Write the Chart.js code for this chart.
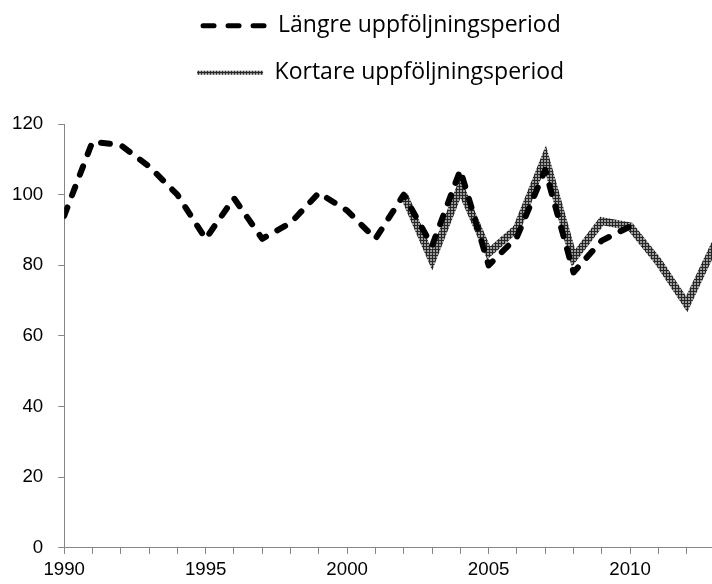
<!DOCTYPE html>
<html lang="sv">
  <head>
    <meta charset="UTF-8" />
    <title>Uppföljningsperiod</title>
    <script src="https://cdn.jsdelivr.net/npm/chart.js@4.4.1/dist/chart.umd.min.js"></script>
    <style>
      html, body { margin: 0; padding: 0; background: #fff; overflow: hidden; }
      #wrap { width: 712px; height: 584px; overflow: hidden; }
    </style>
  </head>
  <body>
    <!-- canvas is a bit wider than the window: the reference is cut at 2013 -->
    <div id="wrap"><canvas id="chart" width="720" height="584"></canvas></div>
    <script>
      // data
      const years = [1990, 1991, 1992, 1993, 1994, 1995, 1996, 1997, 1998, 1999, 2000, 2001,
                     2002, 2003, 2004, 2005, 2006, 2007, 2008, 2009, 2010, 2011, 2012, 2013];
      const langre = [94, 115, 114, 108, 100, 87.5, 99, 87.5, 92, 100.5, 95.5, 87.5,
                      100, 85.5, 107, 80, 88, 107, 78, 87, 91, null, null, null];
      const kortare = [null, null, null, null, null, null, null, null, null, null, null, null,
                       100, 81.5, 102, 83.5, 90.5, 110.5, 82, 92.5, 91, 81, 69, 86];
      const seriesNames = ["Längre uppföljningsperiod", "Kortare uppföljningsperiod"];
      const yTicks = { min: 0, max: 120, step: 20 };
      const xLabelEvery = 5;

      const axisColor = "#868686";
      const tickFont = { family: "'Liberation Sans', Arial", size: 18.7 };
      const legendLineWidths = [5, 4];
      const legendDash = [[11, 14], []];
      // invisible tail so the centred legend sits a little further left
      const legendTail = "\u00a0\u00a0\u00a0";

      // grey crosshatched stroke like the office "dark grid" pattern
      function makeHatch() {
        const c = document.createElement("canvas");
        c.width = 3;
        c.height = 3;
        const g = c.getContext("2d");
        g.fillStyle = "#9c9c9c";
        g.fillRect(0, 0, 3, 3);
        g.fillStyle = "#262626";
        g.fillRect(0, 0, 3, 1);
        g.fillRect(0, 0, 1, 3);
        return g.createPattern(c, "repeat");
      }

      const toPoints = (vals) => years.map((yr, i) => ({ x: yr, y: vals[i] }));

      const ctx = document.getElementById("chart").getContext("2d");
      const chart = new Chart(ctx, {
        type: "line",
        data: {
          datasets: [
            {
              label: seriesNames[0],
              data: toPoints(langre),
              borderColor: "#000000",
              backgroundColor: "#000000",
              borderWidth: 6,
              borderDash: [9, 13],
              borderCapStyle: "round",
              borderJoinStyle: "round",
              pointRadius: 0,
              tension: 0,
            },
            {
              label: seriesNames[1],
              data: toPoints(kortare),
              borderColor: makeHatch(),
              backgroundColor: "transparent",
              borderWidth: 8,
              borderCapStyle: "butt",
              borderJoinStyle: "miter",
              pointRadius: 0,
              tension: 0,
            },
          ],
        },
        options: {
          responsive: false,
          animation: false,
          devicePixelRatio: 1,
          // chart.js reserves tick padding twice, hence the negative values
          layout: { padding: { top: -9.8, left: -3, right: 1, bottom: -2.4 } },
          plugins: {
            legend: {
              position: "top",
              fullSize: false,
              align: "center",
              labels: {
                color: "#000",
                font: { family: "'Open Sans', Lato, sans-serif", size: 23 },
                usePointStyle: true,
                pointStyle: "line",
                pointStyleWidth: 66,
                padding: 24,
                generateLabels: (c) =>
                  Chart.defaults.plugins.legend.labels
                    .generateLabels(c)
                    .map((item, i) => {
                      const ds = c.data.datasets[i];
                      return {
                        ...item,
                        text: item.text + legendTail,
                        lineWidth: legendLineWidths[i],
                        lineDash: legendDash[i],
                        lineDashOffset: -2.5,
                        lineCap: ds.borderCapStyle,
                        strokeStyle: ds.borderColor,
                      };
                    }),
              },
            },
            // empty title used as a gap between legend and plot
            title: {
              display: true,
              text: "",
              weight: 500,
              padding: 0,
              font: { size: 29.8, lineHeight: 1 },
            },
            tooltip: { enabled: false },
          },
          scales: {
            x: {
              type: "linear",
              min: years[0],
              max: years[years.length - 1],
              grid: {
                drawOnChartArea: false,
                drawTicks: true,
                tickLength: 6,
                color: axisColor,
              },
              border: { color: axisColor, width: 1 },
              ticks: {
                stepSize: 1,
                autoSkip: false,
                maxRotation: 0,
                padding: 5,
                color: "#000",
                font: tickFont,
                callback: (v) => (v % xLabelEvery === 0 ? String(v) : ""),
              },
            },
            y: {
              min: yTicks.min,
              max: yTicks.max,
              grid: {
                drawOnChartArea: false,
                drawTicks: true,
                tickLength: 6,
                color: axisColor,
              },
              border: { color: axisColor, width: 1 },
              ticks: {
                stepSize: yTicks.step,
                padding: 15,
                color: "#000",
                font: tickFont,
              },
            },
          },
        },
      });
    </script>
  </body>
</html>
